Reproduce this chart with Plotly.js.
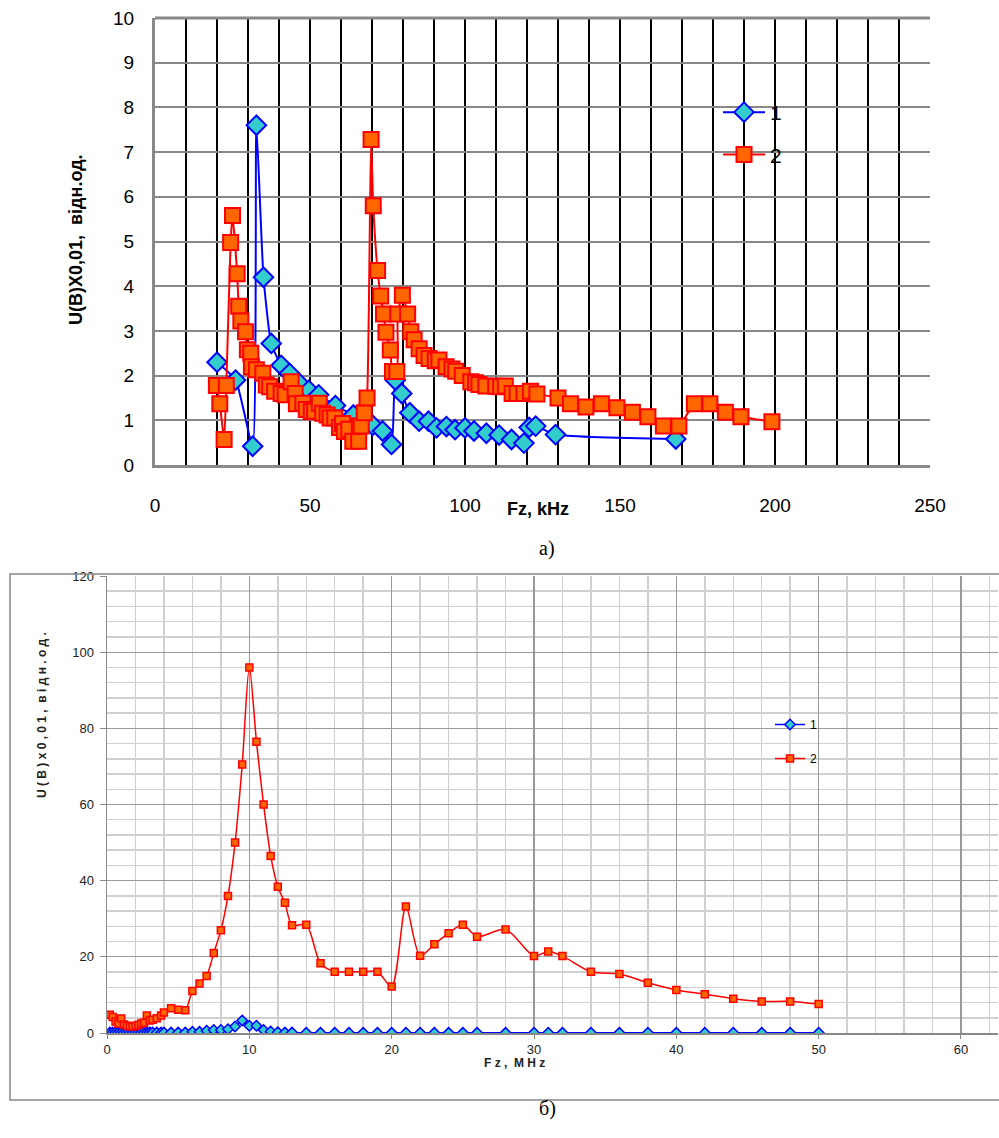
<!DOCTYPE html>
<html>
<head>
<meta charset="utf-8">
<script src="https://cdn.plot.ly/plotly-3.0.1.min.js"></script>
<style>html,body{margin:0;padding:0;background:#fff;}#chart{width:999px;height:1138px;}</style>
</head>
<body>
<div id="chart"></div>
<script>
// ---- Chart a) : Fz, kHz ----
var topX1 = [20,26,31.5,32.7,35,37.5,40.7,43.4,46.5,49.6,52.8,58.2,64,70.2,73.4,76.3,77.5,79.6,82.2,85.2,88.2,90.8,94,96.8,100,102.9,106.9,111,115,119,120.7,122.8,129.2,168];
var topY1 = [2.3,1.9,0.42,7.6,4.2,2.72,2.23,2.05,1.83,1.67,1.57,1.33,1.12,0.89,0.76,0.46,1.9,1.6,1.17,0.98,0.98,0.83,0.86,0.79,0.83,0.76,0.71,0.67,0.57,0.49,0.84,0.87,0.68,0.58];

var topX2 = [19.8,20.9,22.3,23,24.4,25,26.5,27,27.7,29.2,29.8,30.9,31.1,32.7,34.8,35.9,37,38.6,40.7,42,43.9,45.2,45.6,47.7,48.8,50.4,51.5,53,54.1,55.5,56.5,58,59.5,60.5,61.1,62.5,63.8,65.7,65.9,66.5,67.5,68.4,69.7,70.4,71.8,72.8,73.7,74.5,75.9,76.6,78,78.3,79.8,81.5,82.5,83.6,85.2,86.8,88.4,90.4,91.6,93.9,95.8,97,99.1,101.9,103.4,104.5,106.7,109.9,111.5,113,115.2,116.8,119,121.1,123.2,130,134,139,144,149,154,159,164,169,174,179,184,189,199];
var topY2 = [1.78,1.37,0.57,1.78,4.98,5.58,4.28,3.55,3.22,2.98,2.58,2.5,2.2,2.13,2.05,1.79,1.75,1.65,1.6,1.57,1.86,1.6,1.37,1.38,1.24,1.19,1.2,1.38,1.16,1.12,1.05,1.05,0.84,0.93,0.75,0.8,0.53,0.53,0.87,0.87,1.17,1.5,7.28,5.8,4.35,3.78,3.38,2.97,2.57,2.09,2.09,3.38,3.8,3.38,2.98,2.8,2.6,2.45,2.38,2.33,2.35,2.2,2.15,2.1,2.0,1.86,1.84,1.8,1.77,1.76,1.75,1.77,1.6,1.6,1.6,1.65,1.59,1.5,1.37,1.3,1.37,1.28,1.18,1.08,0.87,0.87,1.37,1.37,1.18,1.08,0.97];

// ---- Chart б) : Fz, MHz ----
var botX = [0.2,0.4,0.6,0.8,1.0,1.2,1.4,1.6,1.8,2.0,2.2,2.4,2.6,2.8,3.0,3.2,3.5,3.8,4.0,4.5,5,5.5,6,6.5,7,7.5,8,8.5,9,9.5,10,10.5,11,11.5,12,12.5,13,14,15,16,17,18,19,20,21,22,23,24,25,26,28,30,31,32,34,36,38,40,42,44,46,48,50];
var botY1 = [0.1,0.1,0.1,0.1,0.1,0.1,0.1,0.1,0.1,0.1,0.1,0.1,0.1,0.1,0.1,0.1,0.1,0.1,0.1,0.1,0.1,0.1,0.3,0.3,0.6,0.8,0.8,1.0,1.7,3.3,1.9,1.9,0.8,0.4,0.2,0.1,0.1,0.05,0.05,0.05,0.05,0.05,0.05,0.05,0.05,0.05,0.05,0.05,0.05,0.05,0.05,0.05,0.05,0.05,0.05,0.05,0.05,0.05,0.05,0.05,0.05,0.05,0.05];
var botY2 = [4.8,4.2,3.0,2.5,3.8,2.2,1.9,1.8,1.7,1.9,2.1,2.5,2.7,4.6,3.3,3.5,3.9,4.6,5.4,6.5,6.1,6.0,11,13,15,21,27,36,50,70.5,96,76.5,60,46.5,38.4,34.2,28.3,28.4,18.3,16.1,16.1,16.1,16.1,12.2,33.2,20.3,23.3,26.2,28.4,25.3,27.2,20.2,21.4,20.2,16.1,15.5,13.2,11.3,10.2,9.0,8.3,8.3,7.6];

var seriesNames = ['1', '2'];
var captions = ['а)', 'б)'];
var topXTitle = 'Fz, kHz', topYTitle = 'U(B)X0,01,  відн.од.';
var botXTitle = 'F z ,  M H z', botYTitle = 'U ( B ) x 0 , 0 1 ,  в і д н . о д .';

var W = 999, H = 1138;
function px(x){return x/W;}
function py(y){return 1 - y/H;}

var traces = [
  {x: topX1, y: topY1, xaxis:'x', yaxis:'y', name: seriesNames[0], mode:'lines+markers', legend:'legend', legendgroup:'a1',
   line:{color:'#0000FF', width:2, shape:'spline', smoothing:0.5},
   marker:{symbol:'diamond', size:15, color:'#33CCCC', line:{color:'#0000FF', width:2}}},
  {x: topX2, y: topY2, xaxis:'x', yaxis:'y', name: seriesNames[1], mode:'lines+markers', legend:'legend', legendgroup:'a2',
   line:{color:'#FF0000', width:2, shape:'spline', smoothing:0.5},
   marker:{symbol:'square', size:15, color:'#FF6600', line:{color:'#FF0000', width:2}}},
  {x: botX, y: botY1, xaxis:'x2', yaxis:'y2', name: seriesNames[0], mode:'lines+markers', legend:'legend2', legendgroup:'b1',
   line:{color:'#0000FF', width:1.5, shape:'spline', smoothing:0.8},
   marker:{symbol:'diamond', size:8, color:'#33CCCC', line:{color:'#0000FF', width:1.5}}},
  {x: botX, y: botY2, xaxis:'x2', yaxis:'y2', name: seriesNames[1], mode:'lines+markers', legend:'legend2', legendgroup:'b2',
   line:{color:'#FF0000', width:1.5, shape:'spline', smoothing:0.8},
   marker:{symbol:'square', size:7, color:'#FF6600', line:{color:'#FF0000', width:1.5}}}
];

var layout = {
  width: W, height: H,
  margin:{l:0,r:0,t:0,b:0},
  paper_bgcolor:'#fff', plot_bgcolor:'#fff',
  font:{family:'Liberation Sans, Arial, sans-serif', color:'#000'},
  showlegend:true,
  xaxis:{domain:[px(155), px(930)], anchor:'y', range:[0,250], dtick:50, tick0:0,
    showgrid:true, gridcolor:'#000', gridwidth:2,
    minor:{dtick:10, showgrid:true, gridcolor:'#000', gridwidth:2},
    showline:true, linecolor:'#888', linewidth:3, mirror:false, zeroline:false,
    ticks:'', ticklabelstandoff:21, tickfont:{size:19, color:'#000'}},
  yaxis:{domain:[py(465), py(18)], anchor:'x', range:[0,10], dtick:1,
    showgrid:true, gridcolor:'#888', gridwidth:2,
    showline:true, linecolor:'#888', linewidth:3, zeroline:false,
    ticks:'', ticklabelstandoff:14, tickfont:{size:19, color:'#000'}},
  xaxis2:{domain:[px(107), px(998)], anchor:'y2', range:[0,62.6], dtick:10, tick0:0,
    showgrid:true, gridcolor:'#999', gridwidth:1.2,
    minor:{dtick:2, showgrid:true, gridcolor:'#d0d0d0', gridwidth:1.5},
    showline:true, linecolor:'#888', linewidth:1.5, zeroline:false,
    ticks:'outside', ticklen:4, tickcolor:'#888', ticklabelstandoff:0, tickfont:{size:13, color:'#222'}},
  yaxis2:{domain:[py(1033), py(576)], anchor:'x2', range:[0,120], dtick:20,
    showgrid:true, gridcolor:'#999', gridwidth:1.2,
    minor:{dtick:4, showgrid:true, gridcolor:'#d0d0d0', gridwidth:1.5},
    showline:true, linecolor:'#888', linewidth:1.5, zeroline:false,
    ticks:'outside', ticklen:6, tickcolor:'#888', ticklabelstandoff:3, tickfont:{size:13, color:'#222'}},
  legend:{x:px(718), y:py(92), xanchor:'left', yanchor:'top', bgcolor:'rgba(255,255,255,0)',
    font:{size:21, color:'#000'}, traceorder:'grouped', tracegroupgap:12, itemwidth:42},
  legend2:{x:px(770), y:py(710), xanchor:'left', yanchor:'top', bgcolor:'rgba(255,255,255,0)',
    font:{size:12, color:'#000'}, traceorder:'grouped', tracegroupgap:15, itemwidth:30},
  shapes:[
    {type:'rect', xref:'paper', yref:'paper', x0:px(10), x1:1.02, y0:py(1100), y1:py(574), line:{color:'#888', width:1.5}},
    {type:'line', xref:'paper', yref:'paper', x0:px(155), x1:px(930), y0:py(18), y1:py(18), line:{color:'#888', width:3}}
  ],
  annotations:[
    {text:'<b>'+topXTitle+'</b>', xref:'paper', yref:'paper', x:px(538), y:py(509), showarrow:false, font:{size:18, color:'#000', family:'Liberation Sans, Arial'}, xanchor:'center', yanchor:'middle'},
    {text:'<b>'+topYTitle+'</b>', xref:'paper', yref:'paper', x:px(76), y:py(240), showarrow:false, textangle:-90, font:{size:18, color:'#000'}, xanchor:'center', yanchor:'middle'},
    {text:captions[0], xref:'paper', yref:'paper', x:px(547), y:py(548), showarrow:false, font:{size:20, family:'Liberation Serif, Times New Roman, serif', color:'#000'}},
    {text:'<b>'+botXTitle+'</b>', xref:'paper', yref:'paper', x:px(514), y:py(1071), showarrow:false, borderpad:0, font:{size:12, color:'#222'}},
    {text:'<b>'+botYTitle+'</b>', xref:'paper', yref:'paper', x:px(33), y:py(800), showarrow:false, textangle:-90, font:{size:12, color:'#222'}},
    {text:captions[1], xref:'paper', yref:'paper', x:px(547), y:py(1122), showarrow:false, font:{size:20, family:'Liberation Serif, Times New Roman, serif', color:'#000'}}
  ]
};

Plotly.newPlot('chart', traces, layout, {staticPlot:true, displayModeBar:false});
</script>
</body>
</html>
